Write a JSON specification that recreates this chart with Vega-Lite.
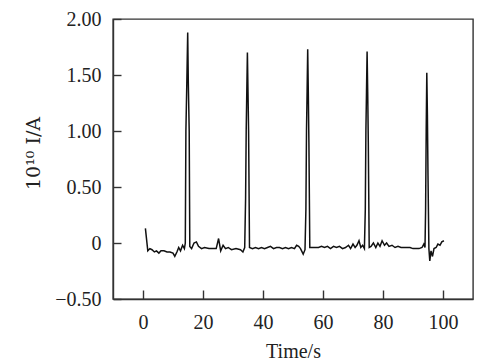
{
  "$schema": "https://vega.github.io/schema/vega-lite/v6.json",
  "width": 360,
  "height": 280,
  "autosize": "none",
  "padding": {"left": 113, "top": 19, "right": 15, "bottom": 65},
  "background": "white",
  "config": {
    "view": {"stroke": "#333", "strokeWidth": 1.4},
    "font": "Liberation Serif",
    "axis": {
      "grid": false,
      "domainColor": "#333",
      "domainWidth": 1.4,
      "tickColor": "#333",
      "tickWidth": 1.4,
      "labelFont": "Liberation Serif",
      "labelFontSize": 20,
      "labelColor": "#222",
      "titleFont": "Liberation Serif",
      "titleFontSize": 20,
      "titleFontWeight": "normal",
      "titleColor": "#222"
    }
  },
  "data": {
    "values": [
      {"t": 0.8, "i": 0.13}, {"t": 1.6, "i": -0.07}, {"t": 2.3, "i": -0.05}, {"t": 3.0, "i": -0.06},
      {"t": 3.8, "i": -0.08}, {"t": 4.5, "i": -0.07}, {"t": 5.3, "i": -0.09}, {"t": 6.0, "i": -0.07},
      {"t": 7.0, "i": -0.07}, {"t": 8.0, "i": -0.08}, {"t": 9.0, "i": -0.08}, {"t": 10.0, "i": -0.09},
      {"t": 10.6, "i": -0.12}, {"t": 11.3, "i": -0.08}, {"t": 11.9, "i": -0.04}, {"t": 12.5, "i": -0.07},
      {"t": 13.2, "i": -0.02}, {"t": 13.8, "i": -0.05},
      {"t": 14.1, "i": 0.0}, {"t": 14.3, "i": 1.0}, {"t": 14.6, "i": 1.42}, {"t": 14.9, "i": 1.88},
      {"t": 15.1, "i": 1.44}, {"t": 15.4, "i": 1.0}, {"t": 15.6, "i": -0.03},
      {"t": 16.2, "i": -0.05}, {"t": 17.0, "i": 0.0}, {"t": 17.8, "i": 0.01}, {"t": 18.5, "i": -0.03},
      {"t": 19.5, "i": -0.05}, {"t": 20.5, "i": -0.04}, {"t": 22.0, "i": -0.05}, {"t": 23.5, "i": -0.05},
      {"t": 24.4, "i": -0.05}, {"t": 25.2, "i": 0.04}, {"t": 25.9, "i": -0.07}, {"t": 26.7, "i": -0.02},
      {"t": 27.5, "i": -0.05}, {"t": 28.4, "i": -0.04}, {"t": 29.5, "i": -0.06}, {"t": 31.0, "i": -0.05},
      {"t": 32.5, "i": -0.06}, {"t": 33.3, "i": -0.08}, {"t": 33.9, "i": -0.04},
      {"t": 34.2, "i": 0.4}, {"t": 34.4, "i": 1.0}, {"t": 34.6, "i": 1.35}, {"t": 34.8, "i": 1.7},
      {"t": 35.0, "i": 1.35}, {"t": 35.2, "i": 1.0}, {"t": 35.5, "i": -0.04},
      {"t": 36.5, "i": -0.05}, {"t": 37.5, "i": -0.04}, {"t": 38.5, "i": -0.05}, {"t": 39.5, "i": -0.04},
      {"t": 40.5, "i": -0.05}, {"t": 41.5, "i": -0.04}, {"t": 42.5, "i": -0.03}, {"t": 43.5, "i": -0.05},
      {"t": 44.5, "i": -0.04}, {"t": 45.5, "i": -0.04}, {"t": 46.5, "i": -0.05}, {"t": 47.5, "i": -0.04},
      {"t": 48.5, "i": -0.05}, {"t": 49.5, "i": -0.04}, {"t": 50.5, "i": -0.05}, {"t": 51.2, "i": -0.02},
      {"t": 51.9, "i": -0.03}, {"t": 52.5, "i": -0.05}, {"t": 53.4, "i": -0.1}, {"t": 54.0, "i": -0.06},
      {"t": 54.3, "i": 0.3}, {"t": 54.5, "i": 1.0}, {"t": 54.7, "i": 1.35}, {"t": 54.9, "i": 1.73},
      {"t": 55.1, "i": 1.35}, {"t": 55.3, "i": 0.9}, {"t": 55.6, "i": -0.04},
      {"t": 57.0, "i": -0.04}, {"t": 58.5, "i": -0.04}, {"t": 59.5, "i": -0.03}, {"t": 60.5, "i": -0.04},
      {"t": 61.5, "i": -0.03}, {"t": 62.5, "i": -0.05}, {"t": 63.5, "i": -0.03}, {"t": 64.5, "i": -0.04},
      {"t": 65.5, "i": -0.03}, {"t": 66.5, "i": -0.05}, {"t": 67.5, "i": -0.04}, {"t": 68.5, "i": -0.02},
      {"t": 69.2, "i": -0.05}, {"t": 70.0, "i": -0.01}, {"t": 70.7, "i": -0.04}, {"t": 71.3, "i": -0.02},
      {"t": 72.0, "i": 0.02}, {"t": 72.6, "i": -0.04}, {"t": 73.2, "i": -0.02}, {"t": 73.8, "i": -0.05},
      {"t": 74.1, "i": 0.3}, {"t": 74.3, "i": 1.0}, {"t": 74.5, "i": 1.35}, {"t": 74.7, "i": 1.71},
      {"t": 74.9, "i": 1.35}, {"t": 75.1, "i": 0.9}, {"t": 75.4, "i": -0.04},
      {"t": 76.0, "i": -0.03}, {"t": 76.8, "i": 0.0}, {"t": 77.6, "i": -0.04}, {"t": 78.3, "i": 0.0},
      {"t": 79.0, "i": -0.03}, {"t": 79.7, "i": 0.02}, {"t": 80.5, "i": -0.02}, {"t": 81.2, "i": 0.0},
      {"t": 82.0, "i": -0.03}, {"t": 83.0, "i": -0.02}, {"t": 84.0, "i": -0.04}, {"t": 85.0, "i": -0.03},
      {"t": 86.0, "i": -0.04}, {"t": 87.0, "i": -0.04}, {"t": 88.0, "i": -0.04}, {"t": 89.0, "i": -0.04},
      {"t": 90.0, "i": -0.05}, {"t": 91.0, "i": -0.05}, {"t": 92.0, "i": -0.05}, {"t": 93.0, "i": -0.04},
      {"t": 93.6, "i": -0.01}, {"t": 94.0, "i": -0.04},
      {"t": 94.2, "i": 0.3}, {"t": 94.4, "i": 1.0}, {"t": 94.6, "i": 1.52}, {"t": 94.8, "i": 1.15},
      {"t": 95.0, "i": 0.6}, {"t": 95.3, "i": -0.05}, {"t": 95.6, "i": -0.16}, {"t": 96.0, "i": -0.07},
      {"t": 96.5, "i": -0.12}, {"t": 97.0, "i": -0.05}, {"t": 97.7, "i": -0.04}, {"t": 98.3, "i": -0.01},
      {"t": 99.0, "i": -0.02}, {"t": 99.6, "i": 0.01}, {"t": 100.3, "i": 0.02}
    ]
  },
  "mark": {"type": "line", "color": "#111", "strokeWidth": 1.5, "clip": true},
  "encoding": {
    "x": {
      "field": "t",
      "type": "quantitative",
      "scale": {"domain": [-10, 110], "nice": false, "zero": false},
      "axis": {
        "values": [0, 20, 40, 60, 80, 100],
        "tickSize": -9,
        "labelPadding": 22,
        "title": "Time/s",
        "titleX": 180,
        "titleY": 52,
        "titleBaseline": "middle",
        "titleAlign": "center",
        "titlePadding": 0
      }
    },
    "y": {
      "field": "i",
      "type": "quantitative",
      "scale": {"domain": [-0.5, 2], "nice": false, "zero": false},
      "axis": {
        "values": [-0.5, 0, 0.5, 1, 1.5, 2],
        "tickSize": -8,
        "labelPadding": 20,
        "labelExpr": "datum.value === 0 ? '0' : format(datum.value, '.2f')",
        "title": "10¹⁰ I/A",
        "titleFont": "DejaVu Serif",
        "titleFontSize": 19,
        "titleX": -80,
        "titleY": 134,
        "titleAngle": 270,
        "titleBaseline": "middle",
        "titleAlign": "center"
      }
    }
  }
}
